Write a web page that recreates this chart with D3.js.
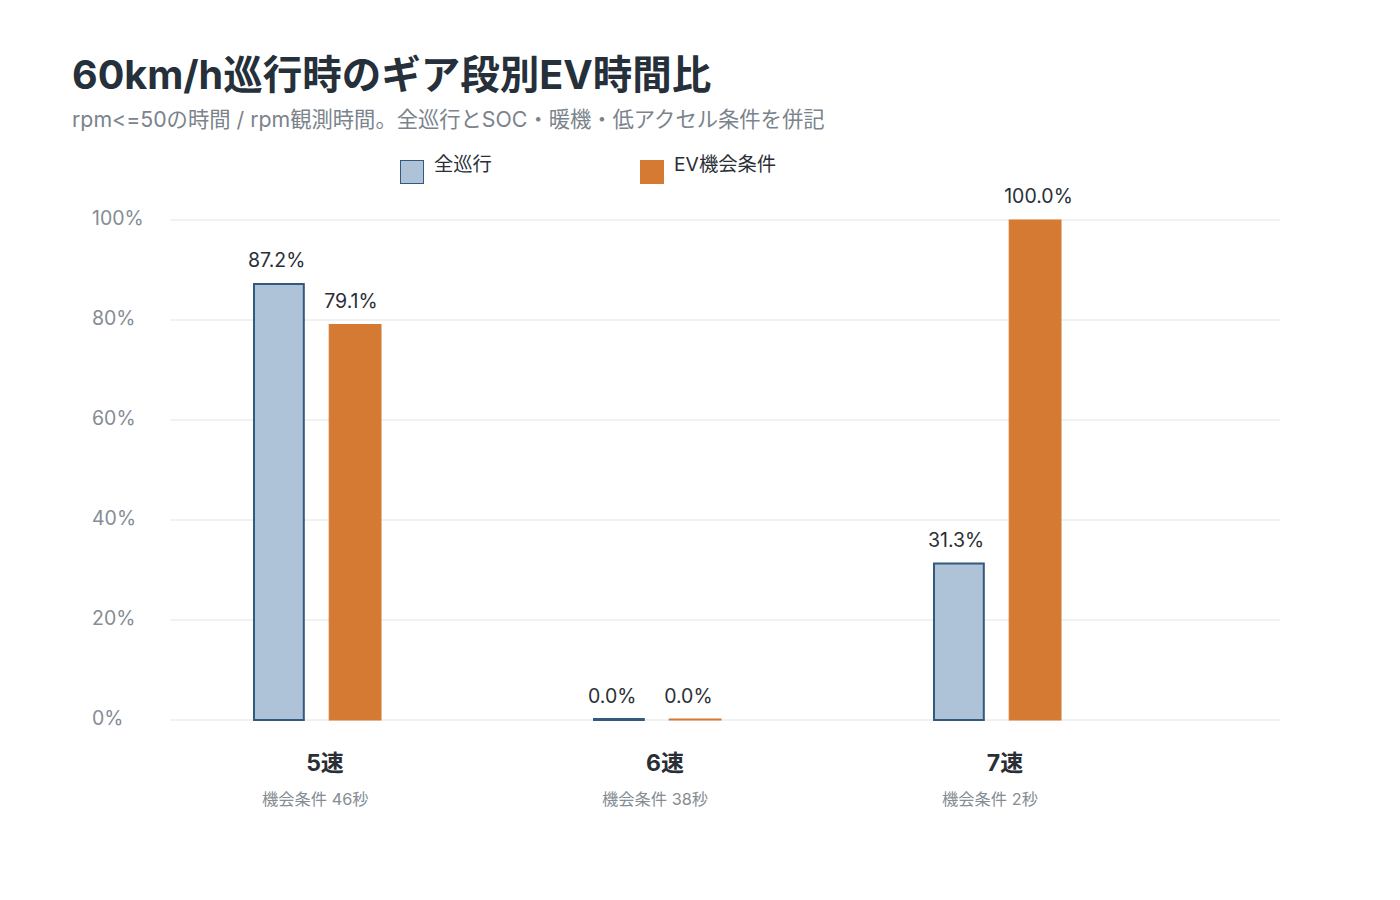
<!DOCTYPE html>
<html>
<head>
<meta charset="utf-8">
<script src="https://cdn.jsdelivr.net/npm/d3@7"></script>
<style>
  body { margin: 0; background: #fff; }
  svg { font-family: Inter, "Noto Sans CJK JP", sans-serif; }
</style>
</head>
<body>
<svg id="chart" width="1400" height="900"></svg>
<script>
// Data
const gears = ["5速", "6速", "7速"];
const opportunitySeconds = [46, 38, 2];
const allCruise = [87.2, 0.0, 31.3];
const evOpportunity = [79.1, 0.0, 100.0];
const seriesNames = ["全巡行", "EV機会条件"];
const yTicks = [0, 20, 40, 60, 80, 100];

const svg = d3.select("#chart");

// Title and subtitle
svg.append("text")
  .attr("x", 72).attr("y", 89)
  .attr("font-size", 39.5).attr("font-weight", "bold")
  .attr("fill", "#25303b")
  .text("60km/h巡行時のギア段別EV時間比");

svg.append("text")
  .attr("x", 72).attr("y", 127)
  .attr("font-size", 21.3)
  .attr("fill", "#7b838c")
  .text("rpm<=50の時間 / rpm観測時間。全巡行とSOC・暖機・低アクセル条件を併記");

// Scales
const x = d3.scaleBand().domain(gears).range([147, 1167]);
const sub = d3.scaleBand().domain(seriesNames).range([-64, 64]).paddingInner(0.32);
const y = d3.scaleLinear().domain([0, 100]).range([720, 220]);

const colors = { "全巡行": "#aec3d8", "EV機会条件": "#d47a32" };
const strokes = { "全巡行": "#34597f", "EV機会条件": "#d47a32" };

// Grid lines and y labels
svg.append("g")
  .selectAll("line")
  .data(yTicks)
  .join("line")
  .attr("x1", 170).attr("x2", 1280)
  .attr("y1", (d) => y(d)).attr("y2", (d) => y(d))
  .attr("stroke", "#e1e4e8").attr("stroke-width", 1);

svg.append("g")
  .selectAll("text")
  .data(yTicks)
  .join("text")
  .attr("x", 92)
  .attr("y", (d) => y(d) + 4.5)
  .attr("font-size", 19.5)
  .attr("fill", "#858c94")
  .text((d) => d + "%");

// Legend
const legend = svg.append("g");
[400, 640].forEach((lx, i) => {
  const name = seriesNames[i];
  legend.append("rect")
    .attr("x", lx + 0.5).attr("y", 160.5)
    .attr("width", 23).attr("height", 23)
    .attr("fill", colors[name])
    .attr("stroke", strokes[name]).attr("stroke-width", 1);
  legend.append("text")
    .attr("x", lx + 34).attr("y", 166)
    .attr("dominant-baseline", "middle")
    .attr("font-size", 19.3)
    .attr("fill", "#2a2f36")
    .text(name);
});

// Bars
const rows = gears.map((g, i) => ({
  gear: g,
  seconds: opportunitySeconds[i],
  values: [
    { name: seriesNames[0], value: allCruise[i] },
    { name: seriesNames[1], value: evOpportunity[i] },
  ],
}));

const groups = svg.append("g")
  .selectAll("g")
  .data(rows)
  .join("g")
  .attr("transform", (d) => `translate(${x(d.gear) + x.bandwidth() / 2},0)`);

// zero-height bars still get a hairline so they stay visible
groups.selectAll("rect")
  .data((d) => d.values)
  .join("rect")
  .attr("x", (d) => sub(d.name) + (d.name === seriesNames[0] ? 1 : 0))
  .attr("y", (d) => Math.min(y(d.value), y(0) - 1))
  .attr("width", (d) => sub.bandwidth() - (d.name === seriesNames[0] ? 2 : 0))
  .attr("height", (d) => Math.max(1, y(0) - y(d.value)))
  .attr("fill", (d) => colors[d.name])
  .attr("stroke", (d) => strokes[d.name])
  .attr("stroke-width", (d) => (d.name === seriesNames[0] ? 2 : 1));

// value labels start just left of each bar
groups.selectAll("text.value")
  .data((d) => d.values)
  .join("text")
  .attr("class", "value")
  .attr("x", (d) => sub(d.name) - 5)
  .attr("y", (d) => y(d.value) - 17)
  .attr("font-size", 19.5)
  .attr("fill", "#2a2f36")
  .text((d) => d.value.toFixed(1) + "%");

// Category labels
groups.append("text")
  .attr("x", 8)
  .attr("y", 771)
  .attr("text-anchor", "middle")
  .attr("font-size", 23)
  .attr("font-weight", "bold")
  .attr("fill", "#2a2f36")
  .text((d) => d.gear);

groups.append("text")
  .attr("x", -55)
  .attr("y", 805)
  .attr("font-size", 16.3)
  .attr("fill", "#858c94")
  .text((d) => `機会条件 ${d.seconds}秒`);
</script>
</body>
</html>
